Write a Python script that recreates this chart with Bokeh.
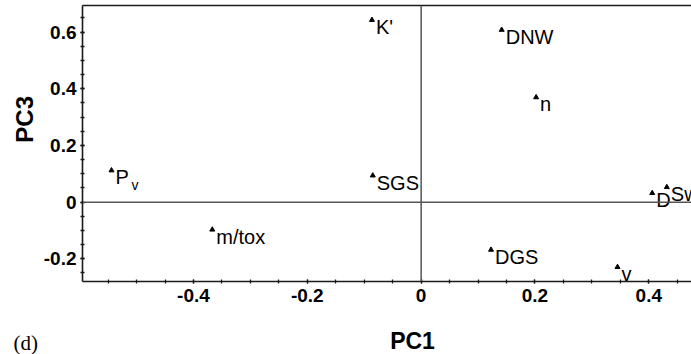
import math
from bokeh.plotting import figure
from bokeh.layouts import row, column
from bokeh.models import (ColumnDataSource, Span, LinearAxis, FixedTicker,
                          SingleIntervalTicker, Range1d, CustomJSTickFormatter)
from bokeh.core.properties import value
from bokeh.embed import file_html
from bokeh.resources import INLINE

# ---- data ----
names = ["K'", "DNW", "n", "SGS", "P", "m/tox", "DGS", "v", "D", "Sw"]
pc1 = [-0.0865, 0.1415, 0.202, -0.085, -0.544, -0.367, 0.1228, 0.345, 0.406, 0.4316]
pc3 = [0.643, 0.608, 0.370, 0.094, 0.112, -0.097, -0.168, -0.229, 0.032, 0.053]
sub_names = ["v"]          # subscript of P_v
sub_pc1 = [-0.544]
sub_pc3 = [0.112]
x_title = "PC1"
y_title = "PC3"
panel_tag = "(d)"

FONT = "Liberation Sans"
INK = "#1a1a1a"


def bare(fig):
    fig.outline_line_color = None
    fig.grid.visible = False
    fig.background_fill_color = "white"
    fig.border_fill_color = "white"
    return fig


# ---- main scatter panel ----
p = figure(width=651, height=314, output_backend="svg", toolbar_location=None,
           x_range=Range1d(-0.595, 0.475), y_range=Range1d(-0.28, 0.694),
           min_border_left=41, min_border_right=0, min_border_top=5,
           min_border_bottom=33)
bare(p)

fmt = CustomJSTickFormatter(code="return Math.abs(tick) < 1e-9 ? '0' : tick.toFixed(1);")
for ax in (p.xaxis[0], p.yaxis[0]):
    ax.ticker = SingleIntervalTicker(interval=0.2, num_minor_ticks=4)
    ax.formatter = fmt
    ax.axis_line_color = INK
    ax.axis_line_width = 1.6
    ax.major_tick_in = 2
    ax.major_tick_out = 2
    ax.minor_tick_in = 2
    ax.minor_tick_out = 2
    ax.major_tick_line_color = INK
    ax.minor_tick_line_color = INK
    ax.major_tick_line_width = 1.3
    ax.minor_tick_line_width = 1.3
    ax.major_label_text_font = FONT
    ax.major_label_text_font_style = "bold"
    ax.major_label_text_font_size = "19px"
    ax.major_label_text_color = "black"

p.xaxis[0].major_label_standoff = 5
p.yaxis[0].major_label_standoff = 4

top = LinearAxis(ticker=FixedTicker(ticks=[]), axis_line_color=INK,
                 axis_line_width=1.6, major_tick_line_color=None,
                 minor_tick_line_color=None)
p.add_layout(top, "above")

# zero lines
p.add_layout(Span(location=0, dimension="width", line_color="#555555", line_width=1.5))
p.add_layout(Span(location=0, dimension="height", line_color="#555555", line_width=1.5))

src = ColumnDataSource(dict(x=pc1, y=pc3, name=names))
p.scatter("x", "y", source=src, marker="triangle", size=5, color="black")
p.text("x", "y", text="name", source=src, x_offset=4, y_offset=7,
       text_font=value(FONT), text_font_size="20px", text_baseline="middle",
       text_align="left", text_color="black")

ssrc = ColumnDataSource(dict(x=sub_pc1, y=sub_pc3, name=sub_names))
p.text("x", "y", text="name", source=ssrc, x_offset=20, y_offset=15,
       text_font=value(FONT), text_font_size="14px", text_baseline="middle",
       text_align="left", text_color="black")

# ---- left strip holding the y-axis title ----
py = bare(figure(width=40, height=314, output_backend="svg", toolbar_location=None,
                 x_range=Range1d(0, 40), y_range=Range1d(314, 0),
                 x_axis_type=None, y_axis_type=None, min_border=0))
py.text(x=[23.5], y=[129.5], text=[y_title], angle=math.pi / 2,
        text_font=value(FONT), text_font_style="bold", text_font_size="24px",
        text_align="center", text_baseline="middle", text_color="black")

# ---- bottom strip holding the x-axis title and panel tag ----
pb = bare(figure(width=691, height=40, output_backend="svg", toolbar_location=None,
                 x_range=Range1d(0, 691), y_range=Range1d(40, 0),
                 x_axis_type=None, y_axis_type=None, min_border=0))
pb.text(x=[412], y=[26], text=[x_title], text_font=value(FONT),
        text_font_style="bold", text_font_size="23px", text_align="center",
        text_baseline="middle", text_color="black")
pb.text(x=[13], y=[28], text=[panel_tag], text_font=value("Liberation Serif"),
        text_font_size="21px", text_align="left", text_baseline="middle",
        text_color="black")

layout = column(row(py, p, spacing=0), pb, spacing=0)
open("out.html", "w").write(file_html(layout, INLINE))
